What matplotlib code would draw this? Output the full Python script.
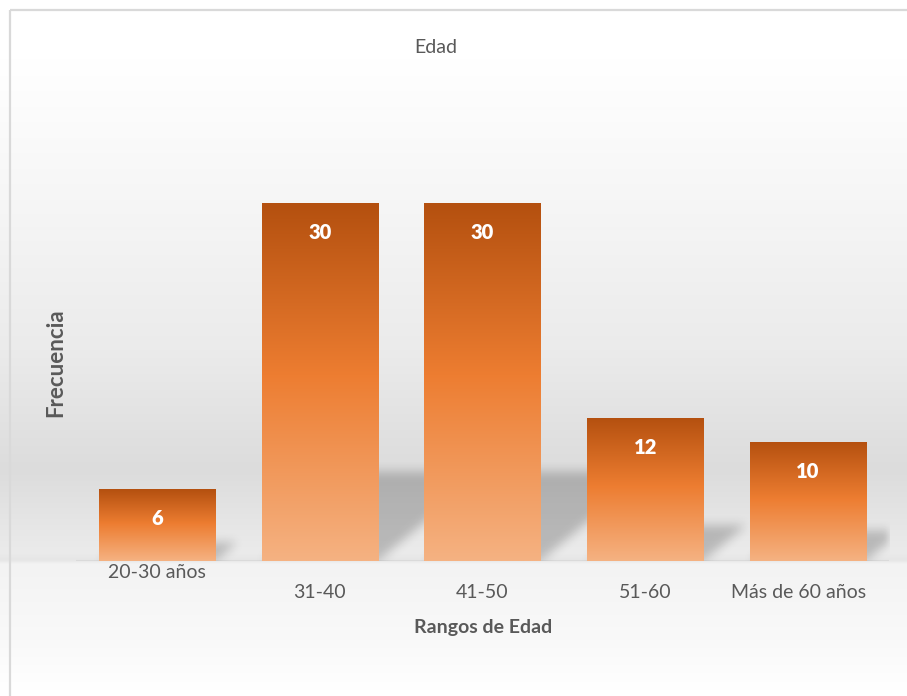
import numpy as np
import matplotlib
matplotlib.use('Agg')
import matplotlib.pyplot as plt
from matplotlib.colors import LinearSegmentedColormap, to_rgb
from matplotlib.transforms import ScaledTranslation

# ---------------- data ----------------
categories = ['20-30 años', '31-40', '41-50', '51-60', 'Más de 60 años']
frecuencia = [6, 30, 30, 12, 10]
title_text = 'Edad'
x_title = 'Rangos de Edad'
y_title = 'Frecuencia'

plt.rcParams['font.family'] = ['Lato', 'DejaVu Sans']
TXT = '#595959'

W, H, DPI = 907, 696, 100
fig = plt.figure(figsize=(W / DPI, H / DPI), dpi=DPI)

# ---------------- background (chart area gradient + border) ----------------
bg = fig.add_axes([0, 0, 1, 1], zorder=-10)
stops = [(0, '#ffffff'), (60, '#ffffff'), (200, '#f6f6f6'), (350, '#ebebeb'),
         (470, '#dcdcdc'), (552, '#ebebeb'), (560, '#e6e6e6'), (564, '#f3f3f3'),
         (640, '#f9f9f9'), (690, '#ffffff'), (696, '#ffffff')]
ys = np.arange(H) + 0.5
sy = [s[0] for s in stops]
cols = np.array([to_rgb(s[1]) for s in stops])
grad = np.stack([np.interp(ys, sy, cols[:, k]) for k in range(3)], axis=-1)
bg.imshow(grad[:, None, :], extent=[0, W, H, 0], aspect='auto', interpolation='bilinear')
bg.set_xlim(0, W)
bg.set_ylim(H, 0)
bg.axis('off')
bg.plot([9.5, 9.5], [9.5, H], color='#d9d9d9', lw=1.6, solid_capstyle='butt')
bg.plot([9.5, W], [9.5, 9.5], color='#d9d9d9', lw=1.6, solid_capstyle='butt')

# ---------------- main axes ----------------
ax_l, ax_b_px, ax_w, ax_h = 75.6, 561, 813.8, 417.6
ax = fig.add_axes([ax_l / W, (H - ax_b_px) / H, ax_w / W, ax_h / H])
ax.set_xlim(-0.5, 4.5)
ax.set_ylim(0, 35)
ax.patch.set_alpha(0)
for s in ax.spines.values():
    s.set_visible(False)
ax.set_yticks([])

x = np.arange(len(categories))
bars = ax.bar(x, frecuencia, width=0.713, color='#ed7d31', zorder=3)

# per-bar vertical gradient
cmap = LinearSegmentedColormap.from_list(
    'bar', [(0.0, '#f5b282'), (0.52, '#ed7d31'), (1.0, '#b4500f')])
gcol = cmap(np.linspace(0, 1, 256))[:, None, :3]
for p in bars.patches:
    im = ax.imshow(gcol, extent=[p.get_x(), p.get_x() + p.get_width(), 0, p.get_height()],
                   origin='lower', aspect='auto', interpolation='bilinear', zorder=4)
    im.set_clip_path(p)

# perspective shadows (blurred)
px_x = ax_w / 5.0
px_y = ax_h / 35.0
ny = int(12 * px_y)
nx = int(ax_w)
y_lo = -1.0
xs = np.linspace(-0.5, 4.5, nx)
ysd = np.linspace(y_lo, 12, ny)
X, Y = np.meshgrid(xs, ysd)
mask = np.zeros_like(X)
for p in bars.patches:
    h = p.get_height()
    L, R = p.get_x(), p.get_x() + p.get_width()
    hs = 0.25 * h
    skew = 1.2 * hs * px_y / px_x
    Xs = X - skew * np.clip(Y, 0, None) / hs
    m = (Y >= 0) & (Y <= hs) & (Xs >= L) & (Xs <= R)
    mask = np.maximum(mask, m.astype(float))


def box_blur(a, r, axis):
    a = np.moveaxis(a, axis, 0)
    pad = np.concatenate([np.zeros((r + 1,) + a.shape[1:]), a, np.zeros((r,) + a.shape[1:])])
    c = np.cumsum(pad, axis=0)
    out = (c[2 * r + 1:] - c[:-2 * r - 1]) / (2 * r + 1)
    return np.moveaxis(out, 0, axis)


for _ in range(3):
    mask = box_blur(mask, 4, 0)
    mask = box_blur(mask, 4, 1)

shadow = np.zeros(mask.shape + (4,))
shadow[..., 3] = 0.21 * mask
ax.imshow(shadow, extent=[-0.5, 4.5, y_lo, 12], origin='lower', aspect='auto',
          interpolation='bilinear', zorder=2)

ax.axhline(0, color='#dadada', lw=1.5, zorder=1)

# value labels
for xi, v in zip(x, frecuencia):
    ax.annotate(str(v), xy=(xi, v), xytext=(0, -25.9), textcoords='offset points',
                ha='center', va='baseline', color='white', fontsize=14.5,
                fontweight='heavy', zorder=6)

# tick labels
ax.set_xticks(x, categories)
ax.tick_params(axis='x', length=0, pad=16.9, labelsize=14, labelcolor=TXT)
ticks = ax.xaxis.get_major_ticks()
ticks[0].set_pad(2.5)
lab = ticks[4].label1
lab.set_transform(lab.get_transform() + ScaledTranslation(-9.5 / DPI, 0, fig.dpi_scale_trans))

# titles
fig.text(436 / W, (H - 53.3) / H, title_text, ha='center', va='baseline',
         fontsize=14, color=TXT)
fig.text(483 / W, (H - 632.7) / H, x_title, ha='center', va='baseline',
         fontsize=14, fontweight='bold', color=TXT)
fig.text(62.7 / W, (H - 362.5) / H, y_title, ha='center', va='baseline',
         rotation=90, rotation_mode='anchor', fontsize=16, fontweight='bold', color=TXT)

fig.savefig('out.png', dpi=DPI)
